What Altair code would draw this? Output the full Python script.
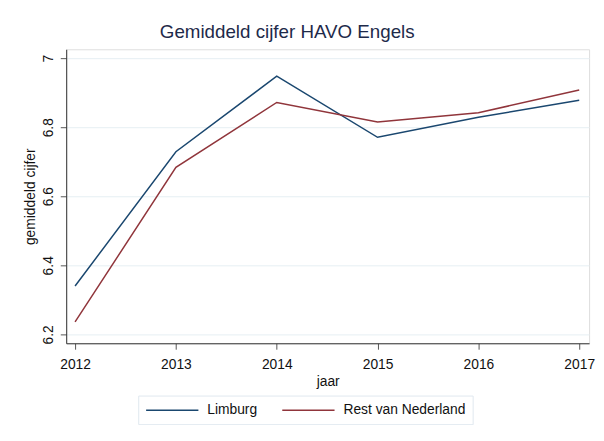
import altair as alt
import pandas as pd

years = [2012, 2013, 2014, 2015, 2016, 2017]
limburg = [6.340, 6.729, 6.948, 6.771, 6.829, 6.878]
rest_nl = [6.236, 6.684, 6.872, 6.815, 6.842, 6.908]
series_names = ["Limburg", "Rest van Nederland"]
series_colors = ["#1a476f", "#90353b"]
y_ticks = [6.2, 6.4, 6.6, 6.8, 7.0]

rows = []
for name, vals in zip(series_names, [limburg, rest_nl]):
    for yr, v in zip(years, vals):
        rows.append({"jaar": yr, "cijfer": v, "reeks": name})
df = pd.DataFrame(rows)

FONT = "Liberation Sans"

chart = alt.Chart(df).mark_line(strokeWidth=1.5).encode(
    x=alt.X("jaar:Q",
            scale=alt.Scale(domain=[2011.912, 2017.098], nice=False, zero=False),
            axis=alt.Axis(values=years, format="d", title="jaar", grid=False,
                          tickSize=6, labelPadding=9, titlePadding=3,
                          labelFontSize=14, titleFontSize=14,
                          labelFont=FONT, titleFont=FONT, titleFontWeight="normal",
                          domainColor="#333333", tickColor="#555555",
                          labelColor="#111111", titleColor="#111111")),
    y=alt.Y("cijfer:Q",
            scale=alt.Scale(domain=[6.174, 7.026], nice=False, zero=False),
            axis=alt.Axis(values=y_ticks, format="~g", title="gemiddeld cijfer",
                          grid=True, gridColor="#e6eff3", gridWidth=1,
                          tickSize=6, labelPadding=5, titlePadding=4,
                          labelAngle=270, labelAlign="center", labelBaseline="bottom",
                          labelFontSize=14, titleFontSize=14,
                          labelFont=FONT, titleFont=FONT, titleFontWeight="normal",
                          domainColor="#333333", tickColor="#555555",
                          labelColor="#111111", titleColor="#111111")),
    color=alt.Color("reeks:N",
                    scale=alt.Scale(domain=series_names, range=series_colors),
                    legend=alt.Legend(title=None, orient="none", legendX=73, legendY=351,
                                      direction="horizontal",
                                      symbolType="M-1,0H6.57",
                                      symbolSize=196, symbolStrokeWidth=1.5,
                                      labelFontSize=14, labelFont=FONT, labelColor="#111111",
                                      labelOffset=47, columnPadding=22, padding=7,
                                      strokeColor="#dfe8ef")),
).properties(
    width=530,
    height=298,
    title=alt.TitleParams("Gemiddeld cijfer HAVO Engels", fontSize=19, font=FONT,
                          fontWeight="normal", color="#1e2a4a", anchor="middle",
                          dx=-41, offset=7),
    autosize=alt.AutoSizeParams(type="none"),
    padding={"left": 59, "top": 39, "right": 7, "bottom": 80},
).configure_view(stroke=None).configure(background="white")

chart.save("out.html", embed_options={"renderer": "svg", "actions": False})
